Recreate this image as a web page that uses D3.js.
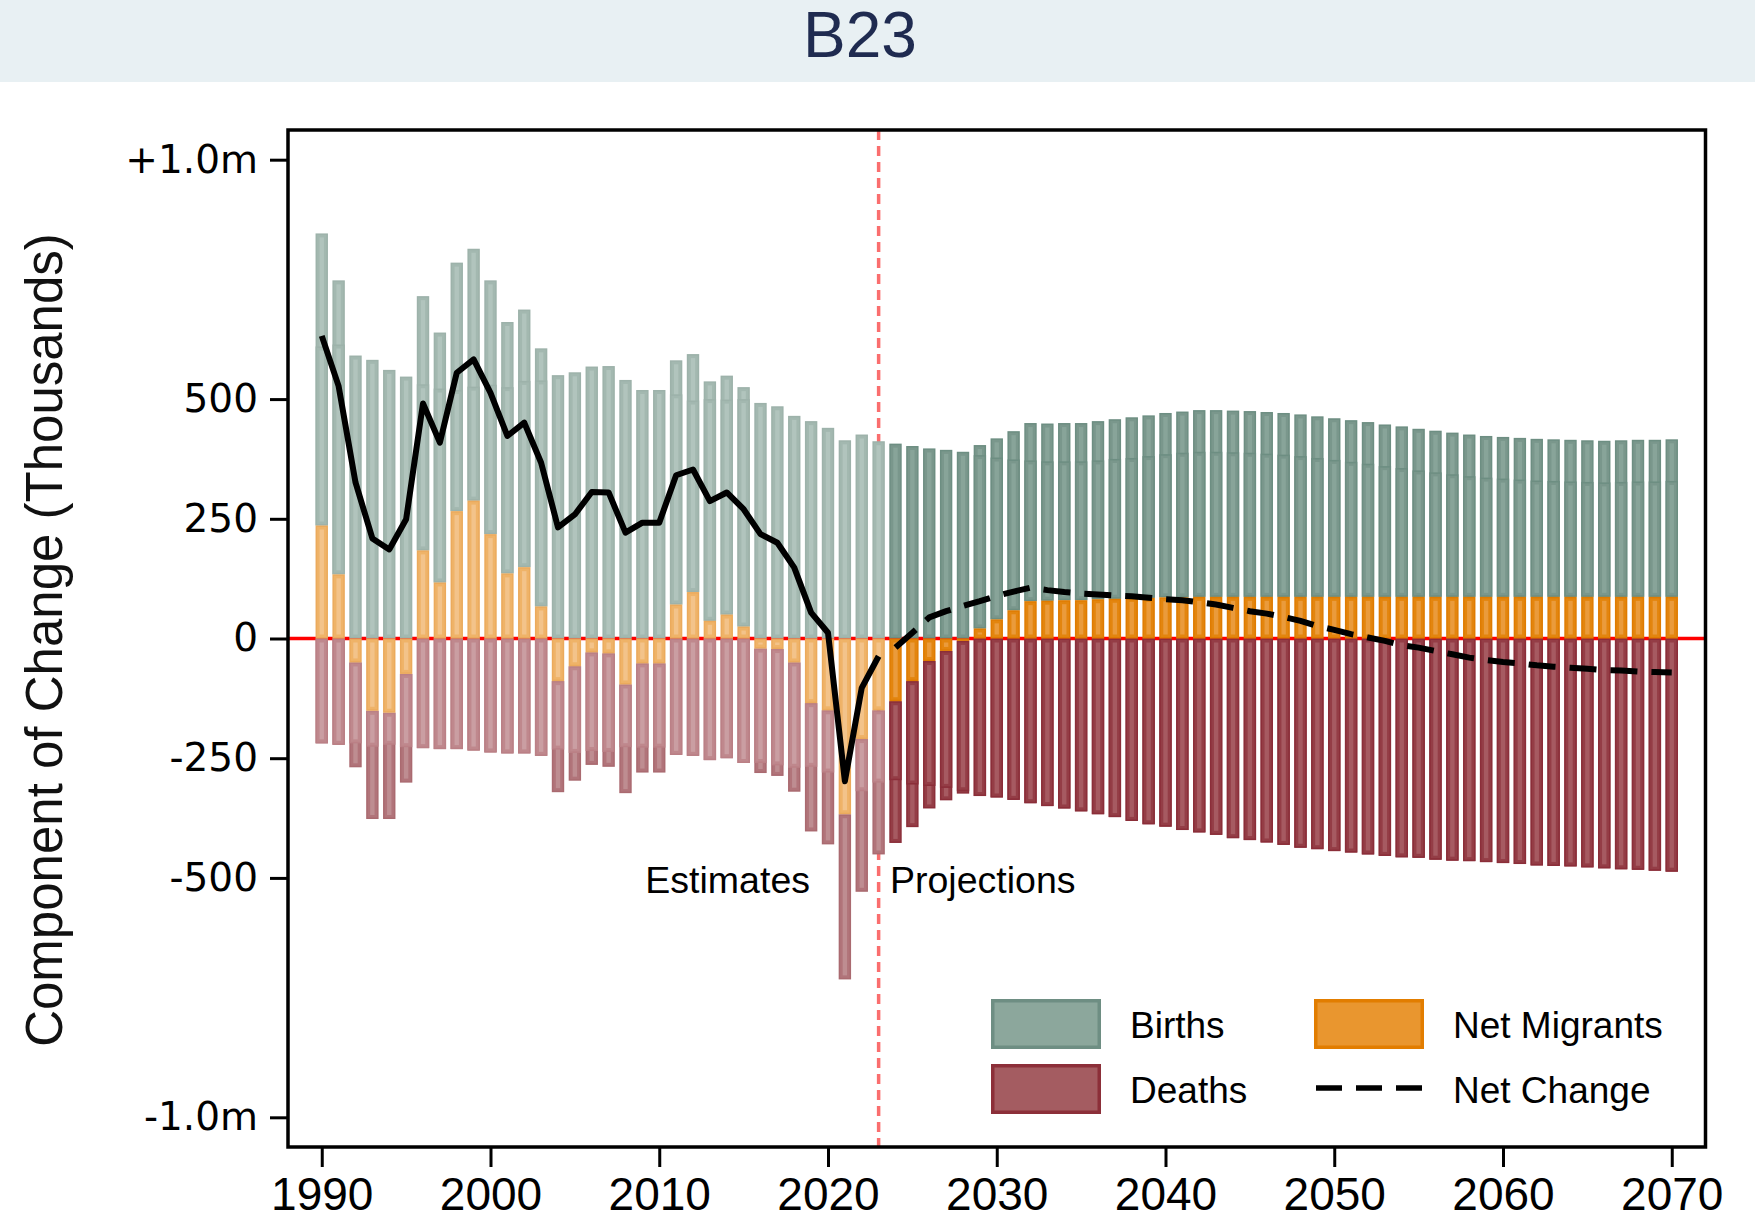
<!DOCTYPE html>
<html lang="en">
<head>
<meta charset="UTF-8">
<title>B23 - Components of Change</title>
<script src="https://d3js.org/d3.v7.min.js"></script>
<style>
    body { margin: 0; background: #fff; }
    svg { display: block; }
</style>
</head>
<body>
<svg id="chart"></svg>
<script>
// ---- data (thousands) ----
const years = d3.range(1990, 2071);
const lastEstimateYear = 2023;

const births = [
    610, 614, 591, 582, 561, 547, 531, 522, 519, 526,
    530, 525, 538, 539, 550, 556, 568, 569, 540, 519,
    519, 510, 497, 500, 499, 500, 492, 485, 465, 454,
    440, 414, 426, 412, 407, 402, 397, 394, 390, 383,
    378, 374, 372, 370, 370, 370, 372, 375, 377, 381,
    385, 388, 390, 390, 389, 388, 386, 384, 381, 377,
    373, 369, 365, 360, 356, 351, 347, 343, 339, 336,
    334, 332, 330, 329, 328, 327, 326, 327, 328, 328,
    329
];
const migrants = [
    236, 134, -50, -151, -155, -74, 184, 117, 266, 288,
    218, 136, 149, 67, -89, -58, -29, -31, -96, -52,
    -52, 71, 97, 37, 50, 25, -21, -22, -50, -135,
    -150, -367, -210, -150, -131, -89, -47, -26, -5, 21,
    40, 59, 78, 79, 80, 80, 82, 83, 85, 85,
    86, 86, 87, 87, 87, 87, 87, 87, 87, 87,
    87, 87, 87, 87, 87, 87, 87, 87, 87, 87,
    87, 87, 87, 87, 87, 87, 87, 87, 87, 87,
    87
];
const deaths = [
    219, 222, 219, 226, 222, 227, 229, 231, 231, 234,
    238, 240, 240, 245, 232, 239, 235, 237, 227, 228,
    228, 243, 245, 254, 250, 260, 260, 265, 270, 268,
    280, 345, 319, 301, 296, 305, 308, 312, 319, 329,
    332, 337, 344, 350, 355, 361, 367, 373, 381, 388,
    393, 400, 405, 410, 417, 421, 426, 431, 437, 440,
    444, 447, 451, 454, 457, 458, 462, 464, 465, 467,
    469, 471, 474, 475, 476, 478, 480, 482, 483, 485,
    487
];
const netChange = [
    632, 527, 326, 209, 186, 249, 491, 409, 555, 583,
    513, 423, 451, 367, 232, 259, 306, 305, 221, 242,
    242, 341, 353, 287, 305, 270, 218, 200, 148, 54,
    12, -298, -103, -37, -19, 12, 44, 57, 68, 78,
    89, 98, 106, 101, 97, 94, 92, 90, 88, 85,
    82, 80, 76, 71, 64, 57, 52, 45, 37, 26,
    18, 9, 2, -5, -14, -19, -26, -33, -40, -45,
    -49, -52, -56, -59, -61, -63, -66, -67, -69, -70,
    -71
];

const xTicks = [1990, 2000, 2010, 2020, 2030, 2040, 2050, 2060, 2070];
const yTicks = [1000, 500, 250, 0, -250, -500, -1000];
const yTickLabels = ['+1.0m', '500', '250', '0', '-250', '-500', '-1.0m'];

// ---- colours ----
const est = {
    births:      { dark: '#9db2aa', mid: '#a3b8b0', light: '#b1c4bd' },
    migrants:    { dark: '#ebaa5c', mid: '#efb368', light: '#f3c38a' },
    deaths:      { dark: '#bb8086', mid: '#bf888d', light: '#ca9ea2' },
    deathsStack: { dark: '#aa6a70', mid: '#b1747a', light: '#be8d91' }
};
const proj = {
    births:      { dark: '#6d8e82', mid: '#7a978c', light: '#88a499' },
    migrants:    { dark: '#df7b00', mid: '#e3850e', light: '#ea9b3c' },
    deaths:      { dark: '#8b2e39', mid: '#943d46', light: '#a65a61' }
};
proj.deathsStack = proj.deaths;

const W = 1755, H = 1219;
const plot = { left: 288, right: 1705.5, top: 130, bottom: 1147 };
const barW = 12.4;
const font = "'Liberation Sans', Arial, sans-serif";

const svg = d3.select('#chart').attr('width', W).attr('height', H);

const x = d3.scaleLinear().domain([1988, 2072]).range([plot.left, plot.right]);
const y = d3.scaleLinear().domain([-1062, 1062]).range([plot.bottom, plot.top]);

// header band
svg.append('rect').attr('x', 0).attr('y', 0).attr('width', W).attr('height', 82)
    .attr('fill', '#e8f0f3');
svg.append('text').attr('x', 860).attr('y', 57)
    .attr('text-anchor', 'middle')
    .attr('font-family', font).attr('font-size', 64)
    .attr('fill', '#1f2b50').text('B23');

// zero line + estimate/projection divider (under the bars)
svg.append('line')
    .attr('x1', plot.left).attr('x2', plot.right)
    .attr('y1', y(0)).attr('y2', y(0))
    .attr('stroke', '#ff0000').attr('stroke-width', 3.5);
svg.append('line')
    .attr('x1', x(lastEstimateYear)).attr('x2', x(lastEstimateYear))
    .attr('y1', plot.top).attr('y2', plot.bottom)
    .attr('stroke', '#fa6e6e').attr('stroke-width', 3.5)
    .attr('stroke-dasharray', '10 6');

// bars
const bars = svg.append('g');
function bar(year, v0, v1, c) {
    const top = y(Math.max(v0, v1));
    const h = y(Math.min(v0, v1)) - top;
    if (h < 0.5) return;
    const x0 = x(year) - barW / 2;
    bars.append('rect')
        .attr('x', x0 + 0.75).attr('y', top + 0.75)
        .attr('width', barW - 1.5).attr('height', Math.max(h - 1.5, 0.5))
        .attr('fill', c.mid).attr('stroke', c.dark).attr('stroke-width', 1.5);
    if (h > 9) {
        bars.append('rect')
            .attr('x', x0 + 4).attr('y', top + 4)
            .attr('width', barW - 8).attr('height', h - 8)
            .attr('fill', c.light);
    }
}

years.forEach((yr, i) => {
    const pal = yr <= lastEstimateYear ? est : proj;
    const b = births[i], m = migrants[i], d = deaths[i];
    const upBase = Math.max(m, 0);
    const downBase = Math.min(m, 0);

    // births stacked on positive migration, plus the plain births bar
    bar(yr, upBase, upBase + b, pal.births);
    if (m > 0) bar(yr, m, b, pal.births);

    // deaths stacked below negative migration, plus the plain deaths bar
    bar(yr, downBase, downBase - d, pal.deathsStack);
    if (m < 0 && -d < m) bar(yr, m, -d, pal.deaths);
    if (m >= 0) bar(yr, 0, -d, pal.deaths);

    bar(yr, 0, m, pal.migrants);
});

// net change line
const line = d3.line().x(d => x(d[0])).y(d => y(d[1]));
const pts = years.map((yr, i) => [yr, netChange[i]]);
svg.append('path')
    .attr('d', line(pts.filter(p => p[0] <= lastEstimateYear)))
    .attr('fill', 'none').attr('stroke', '#000').attr('stroke-width', 6)
    .attr('stroke-linejoin', 'round');
svg.append('path')
    .attr('d', line(pts.filter(p => p[0] > lastEstimateYear)))
    .attr('fill', 'none').attr('stroke', '#000').attr('stroke-width', 6)
    .attr('stroke-dasharray', '27 14');

// frame
svg.append('rect')
    .attr('x', plot.left).attr('y', plot.top)
    .attr('width', plot.right - plot.left).attr('height', plot.bottom - plot.top)
    .attr('fill', 'none').attr('stroke', '#000').attr('stroke-width', 3.5);

// y axis
const yAxis = svg.append('g').attr('transform', `translate(${plot.left},0)`)
    .call(d3.axisLeft(y).tickValues(yTicks)
        .tickFormat((d, i) => yTickLabels[i]).tickSize(18).tickPadding(12));
yAxis.select('.domain').remove();
yAxis.selectAll('.tick line').attr('stroke', '#000').attr('stroke-width', 3);
yAxis.selectAll('.tick text')
    .attr('font-family', "'DejaVu Sans', Verdana, sans-serif")
    .attr('font-size', 39).attr('fill', '#000');

// x axis
const xAxis = svg.append('g').attr('transform', `translate(0,${plot.bottom})`)
    .call(d3.axisBottom(x).tickValues(xTicks).tickFormat(d3.format('d'))
        .tickSize(20).tickPadding(10));
xAxis.select('.domain').remove();
xAxis.selectAll('.tick line').attr('stroke', '#000').attr('stroke-width', 3);
xAxis.selectAll('.tick text')
    .attr('font-family', font).attr('font-size', 46).attr('fill', '#000');

// y title
svg.append('text')
    .attr('transform', 'translate(62,640) rotate(-90)')
    .attr('text-anchor', 'middle')
    .attr('font-family', font).attr('font-size', 51).attr('fill', '#111')
    .text('Component of Change (Thousands)');

// annotations
svg.append('text').attr('x', 810).attr('y', 893).attr('text-anchor', 'end')
    .attr('font-family', font).attr('font-size', 37.5).attr('fill', '#000')
    .text('Estimates');
svg.append('text').attr('x', 890).attr('y', 893)
    .attr('font-family', font).attr('font-size', 37.5).attr('fill', '#000')
    .text('Projections');

// legend
const legend = svg.append('g');
const keys = [
    { label: 'Births', kx: 991, ky: 999, fill: '#8ca79c', stroke: '#6e8e83' },
    { label: 'Deaths', kx: 991, ky: 1064, fill: '#a45c61', stroke: '#8c2f39' },
    { label: 'Net Migrants', kx: 1314, ky: 999, fill: '#e9962f', stroke: '#e27d00' }
];
keys.forEach(k => {
    legend.append('rect').attr('x', k.kx + 1.75).attr('y', k.ky + 1.75)
        .attr('width', 106.5).attr('height', 46.5)
        .attr('fill', k.fill).attr('stroke', k.stroke).attr('stroke-width', 3.5);
    legend.append('text').attr('x', k.kx + 139).attr('y', k.ky + 39)
        .attr('font-family', font).attr('font-size', 37).attr('fill', '#000')
        .text(k.label);
});
legend.append('line')
    .attr('x1', 1316).attr('x2', 1424).attr('y1', 1088).attr('y2', 1088)
    .attr('stroke', '#000').attr('stroke-width', 5.5)
    .attr('stroke-dasharray', '26 14');
legend.append('text').attr('x', 1453).attr('y', 1103)
    .attr('font-family', font).attr('font-size', 37).attr('fill', '#000')
    .text('Net Change');
</script>
</body>
</html>
